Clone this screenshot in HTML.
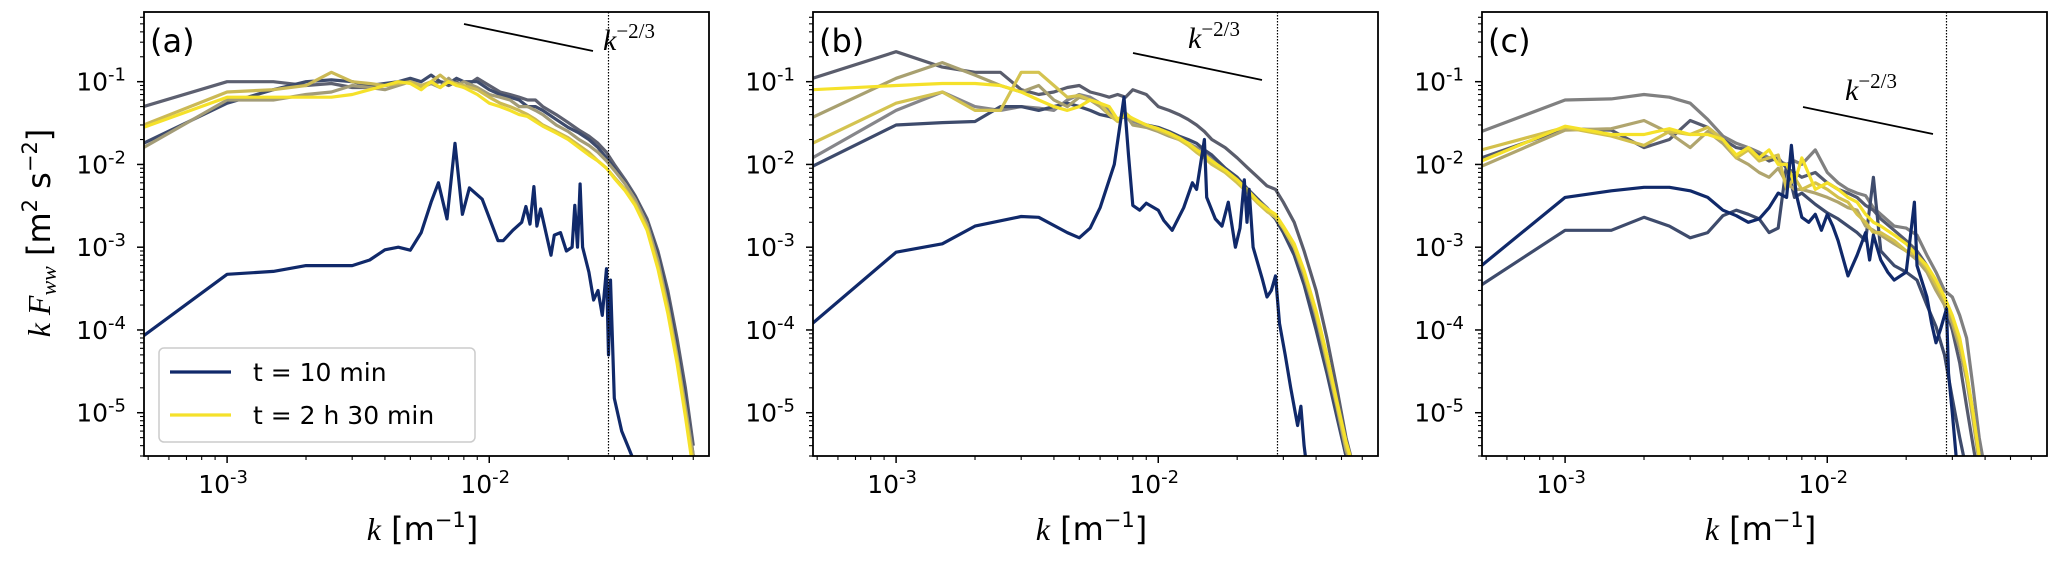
<!DOCTYPE html>
<html><head><meta charset="utf-8"><style>
html,body{margin:0;padding:0;background:#fff;}
svg{display:block;font-family:"DejaVu Sans","Liberation Sans",sans-serif;}
.math{font-family:"Liberation Serif","DejaVu Serif",serif;font-style:italic;}
</style></head><body>
<svg id="fig" width="2067" height="561" viewBox="0 0 2067 561"></svg>
<script>
// ---- data ----
const kGridA=[4.8e-4,1e-3,1.5e-3,2e-3,2.5e-3,3e-3,3.5e-3,4e-3,4.5e-3,5e-3,5.5e-3,6e-3,6.5e-3,7e-3,7.5e-3,8e-3,9e-3,1e-2,1.1e-2,1.2e-2,1.3e-2,1.4e-2,1.5e-2,1.6e-2,1.8e-2,2e-2,2.2e-2,2.4e-2,2.6e-2,2.8e-2,3e-2,3.3e-2,3.6e-2,4e-2,4.4e-2,4.8e-2,5.2e-2,5.6e-2,6e-2];
const a1=[0.018,0.055,0.08,0.1,0.105,0.1,0.09,0.095,0.1,0.11,0.1,0.12,0.1,0.095,0.11,0.1,0.1,0.08,0.07,0.065,0.06,0.05,0.05,0.045,0.035,0.028,0.024,0.02,0.016,0.012,0.009,0.006,0.004,0.002,8e-4,2.5e-4,6e-5,1.5e-5,3e-6];
const a2=[0.05,0.1,0.1,0.09,0.095,0.085,0.085,0.09,0.095,0.1,0.09,0.095,0.1,0.09,0.1,0.085,0.11,0.09,0.075,0.07,0.065,0.06,0.06,0.05,0.04,0.032,0.026,0.022,0.018,0.014,0.01,0.0065,0.0042,0.0022,9e-4,3e-4,8e-5,2e-5,4e-6];
const a3=[0.016,0.06,0.06,0.07,0.075,0.09,0.085,0.08,0.09,0.1,0.085,0.095,0.085,0.11,0.09,0.1,0.085,0.07,0.065,0.06,0.05,0.05,0.045,0.04,0.03,0.025,0.02,0.017,0.014,0.011,0.0085,0.0058,0.0038,0.0019,7e-4,2e-4,5e-5,1.2e-5,3e-6];
const a4=[0.03,0.075,0.08,0.09,0.13,0.1,0.095,0.09,0.095,0.1,0.09,0.1,0.12,0.1,0.095,0.09,0.08,0.065,0.055,0.05,0.045,0.04,0.035,0.03,0.025,0.021,0.017,0.014,0.011,0.009,0.007,0.005,0.0034,0.0017,6e-4,1.8e-4,4.5e-5,1e-5,2.5e-6];
const a5=[0.028,0.065,0.065,0.065,0.065,0.07,0.08,0.09,0.1,0.095,0.08,0.1,0.085,0.1,0.09,0.085,0.07,0.055,0.05,0.045,0.04,0.038,0.033,0.029,0.024,0.02,0.016,0.013,0.011,0.009,0.0068,0.0048,0.0032,0.0016,5.5e-4,1.6e-4,4e-5,9e-6,2e-6];
const kNavyA=[4.8e-4,1e-3,1.5e-3,2e-3,3e-3,3.5e-3,4e-3,4.5e-3,5e-3,5.5e-3,6e-3,6.4e-3,6.9e-3,7.4e-3,7.9e-3,8.4e-3,9.4e-3,1.08e-2,1.13e-2,1.23e-2,1.33e-2,1.38e-2,1.43e-2,1.48e-2,1.52e-2,1.57e-2,1.72e-2,1.77e-2,1.87e-2,1.97e-2,2.07e-2,2.12e-2,2.17e-2,2.22e-2,2.27e-2,2.4e-2,2.5e-2,2.6e-2,2.7e-2,2.8e-2,2.85e-2,2.9e-2,3e-2,3.2e-2,3.5e-2];
const navyA=[8.5e-5,4.7e-4,5.1e-4,6e-4,6e-4,7e-4,9.3e-4,1e-3,9.2e-4,1.5e-3,3.5e-3,6e-3,2.2e-3,1.8e-2,2.5e-3,5.2e-3,3.8e-3,1.2e-3,1.2e-3,1.6e-3,2e-3,3.1e-3,1.9e-3,5.4e-3,1.8e-3,2.9e-3,8e-4,1.4e-3,1.5e-3,9e-4,1e-3,3.2e-3,1e-3,5.8e-3,1e-3,5e-4,2.3e-4,3e-4,1.5e-4,5.5e-4,5e-5,4e-4,1.5e-5,6e-6,3e-6];

const kGridB=kGridA;
const b1=[0.0095,0.03,0.032,0.033,0.05,0.05,0.045,0.05,0.055,0.05,0.045,0.04,0.038,0.035,0.04,0.035,0.03,0.028,0.025,0.022,0.02,0.018,0.015,0.013,0.009,0.007,0.005,0.0038,0.0028,0.0022,0.0015,8e-4,3.5e-4,1e-4,3e-5,9e-6,3e-6,1.5e-6,1e-6];
const b2=[0.11,0.23,0.15,0.13,0.13,0.08,0.07,0.075,0.085,0.09,0.075,0.07,0.065,0.07,0.065,0.08,0.07,0.05,0.045,0.04,0.035,0.03,0.025,0.02,0.016,0.012,0.009,0.007,0.0055,0.005,0.0035,0.002,9e-4,3e-4,8e-5,2e-5,5e-6,2e-6,1e-6];
const b3=[0.012,0.045,0.075,0.05,0.045,0.05,0.048,0.045,0.06,0.07,0.065,0.055,0.045,0.035,0.038,0.033,0.03,0.027,0.024,0.02,0.018,0.016,0.014,0.012,0.009,0.0068,0.005,0.0038,0.003,0.0023,0.0016,9e-4,4e-4,1.2e-4,3.5e-5,1e-5,3e-6,1.5e-6,1e-6];
const b4=[0.037,0.11,0.17,0.12,0.09,0.075,0.09,0.06,0.05,0.065,0.06,0.05,0.04,0.035,0.04,0.03,0.028,0.025,0.022,0.02,0.018,0.015,0.013,0.011,0.0085,0.0065,0.0048,0.0036,0.0028,0.0024,0.0017,0.001,4.5e-4,1.5e-4,4e-5,1.2e-5,3.5e-6,1.8e-6,1e-6];
const b5=[0.018,0.055,0.075,0.045,0.045,0.13,0.13,0.09,0.065,0.068,0.06,0.055,0.04,0.033,0.042,0.035,0.03,0.026,0.023,0.02,0.017,0.014,0.012,0.01,0.008,0.006,0.0045,0.0034,0.0027,0.0023,0.0017,0.001,5e-4,1.6e-4,4.5e-5,1.3e-5,4e-6,2e-6,1e-6];
const b6=[0.08,0.09,0.095,0.095,0.09,0.075,0.06,0.05,0.045,0.05,0.06,0.055,0.05,0.035,0.04,0.036,0.03,0.027,0.024,0.021,0.018,0.015,0.013,0.011,0.0085,0.0065,0.0048,0.0036,0.0029,0.0025,0.0018,0.0011,5.2e-4,1.7e-4,5e-5,1.4e-5,4.5e-6,2e-6,1e-6];
const kNavyB=[4.8e-4,1e-3,1.5e-3,2e-3,3e-3,3.5e-3,4.5e-3,5e-3,5.5e-3,6e-3,6.8e-3,7.4e-3,7.7e-3,8e-3,8.5e-3,9e-3,1e-2,1.05e-2,1.13e-2,1.25e-2,1.35e-2,1.4e-2,1.5e-2,1.53e-2,1.65e-2,1.75e-2,1.85e-2,1.97e-2,2.05e-2,2.13e-2,2.18e-2,2.22e-2,2.3e-2,2.5e-2,2.6e-2,2.7e-2,2.8e-2,2.9e-2,3.05e-2,3.2e-2,3.4e-2,3.5e-2,3.6e-2,3.7e-2];
const navyB=[1.2e-4,8.7e-4,1.1e-3,1.8e-3,2.35e-3,2.3e-3,1.5e-3,1.3e-3,1.7e-3,3e-3,1e-2,6.5e-2,1.3e-2,3.2e-3,2.8e-3,3.4e-3,2.8e-3,2.1e-3,1.6e-3,3e-3,6e-3,5e-3,2e-2,4e-3,2.2e-3,1.8e-3,3.5e-3,1e-3,1.7e-3,6.5e-3,2e-3,5e-3,1e-3,4e-4,2.5e-4,3e-4,4.5e-4,1.2e-4,5e-5,2e-5,7e-6,1.2e-5,4e-6,2e-6];

const kGridC=[4.8e-4,1e-3,1.5e-3,2e-3,2.5e-3,3e-3,3.5e-3,4e-3,4.5e-3,5e-3,5.5e-3,6e-3,6.5e-3,7e-3,7.5e-3,8e-3,9e-3,1e-2,1.1e-2,1.2e-2,1.3e-2,1.4e-2,1.5e-2,1.6e-2,1.8e-2,2e-2,2.2e-2,2.4e-2,2.6e-2,2.8e-2,3e-2,3.2e-2,3.4e-2,3.6e-2,3.8e-2,4e-2];
const c1=[3.5e-4,1.6e-3,1.6e-3,2.3e-3,1.8e-3,1.3e-3,1.5e-3,2.4e-3,2.8e-3,2.5e-3,2.2e-3,1.5e-3,1.7e-3,1e-2,4e-3,4.5e-3,3.3e-3,2.6e-3,2.2e-3,1.8e-3,1.5e-3,1.2e-3,7e-3,9e-4,6e-4,5e-4,4e-4,2e-4,1.1e-4,5e-5,1.5e-5,5e-6,2e-6,1e-6,1e-6,1e-6];
const c2=[0.012,0.027,0.026,0.016,0.02,0.034,0.028,0.02,0.016,0.015,0.013,0.011,0.012,0.009,0.008,0.007,0.008,0.006,0.005,0.0045,0.004,0.0032,0.0028,0.0022,0.0016,0.0012,9e-4,6e-4,3.5e-4,2e-4,1e-4,4e-5,1.2e-5,4e-6,1.5e-6,1e-6];
const c3=[0.025,0.06,0.062,0.07,0.065,0.055,0.035,0.022,0.018,0.016,0.014,0.012,0.011,0.01,0.011,0.01,0.015,0.008,0.006,0.005,0.0045,0.0042,0.003,0.0025,0.0018,0.0017,0.0014,8e-4,5e-4,3e-4,2.5e-4,1.5e-4,8e-5,2e-5,5e-6,2e-6];
const c4=[0.0095,0.026,0.027,0.034,0.024,0.016,0.025,0.018,0.012,0.01,0.008,0.007,0.009,0.006,0.005,0.005,0.0045,0.004,0.0035,0.003,0.0028,0.0018,0.0016,0.0014,0.0011,9e-4,7e-4,5e-4,3e-4,2e-4,1.2e-4,6e-5,2.5e-5,8e-6,2.5e-6,1e-6];
const c5=[0.015,0.028,0.022,0.017,0.025,0.023,0.028,0.02,0.012,0.015,0.011,0.012,0.013,0.005,0.007,0.005,0.006,0.005,0.004,0.0035,0.0025,0.002,0.0015,0.0015,0.0012,9e-4,8e-4,5.5e-4,3.5e-4,2.3e-4,1.4e-4,7e-5,3e-5,1e-5,3e-6,1e-6];
const c6=[0.011,0.029,0.023,0.023,0.027,0.023,0.023,0.02,0.013,0.016,0.012,0.015,0.01,0.01,0.006,0.012,0.005,0.006,0.005,0.004,0.0035,0.0025,0.002,0.0018,0.0014,0.0011,8e-4,6e-4,4e-4,2.5e-4,1.5e-4,8e-5,3e-5,1e-5,3e-6,1e-6];
const kNavyC=[4.8e-4,1e-3,1.5e-3,2e-3,2.5e-3,3e-3,3.5e-3,4e-3,4.5e-3,5e-3,5.5e-3,6e-3,6.5e-3,7e-3,7.3e-3,7.6e-3,8e-3,8.5e-3,9e-3,9.5e-3,1e-2,1.05e-2,1.1e-2,1.2e-2,1.3e-2,1.4e-2,1.45e-2,1.5e-2,1.6e-2,1.7e-2,1.8e-2,2e-2,2.15e-2,2.2e-2,2.4e-2,2.5e-2,2.6e-2,2.7e-2,2.85e-2,2.9e-2,3e-2,3.1e-2];
const navyC=[6e-4,4e-3,4.8e-3,5.3e-3,5.3e-3,4.8e-3,4e-3,2.8e-3,2.4e-3,2e-3,2.2e-3,3e-3,4.5e-3,4e-3,1.7e-2,4.5e-3,2.3e-3,2e-3,2.5e-3,1.6e-3,2.5e-3,1.8e-3,1.2e-3,4.5e-4,8e-4,1.5e-3,7e-4,1.4e-3,7e-4,5e-4,4e-4,5e-4,3.5e-3,6e-4,2.5e-4,1.2e-4,7e-5,1e-4,1.8e-4,3e-5,1e-5,3e-6];

const yTicks=[-5,-4,-3,-2,-1];
const xTicks=[-3,-2];
const kCut=0.0285;

// ---- layout ----
const NS='http://www.w3.org/2000/svg';
const svg=document.getElementById('fig');
const TOP=12,BOT=456,PW=565;
const XMIN=Math.log10(4.82e-4),XMAX=Math.log10(0.0689);
const YMIN=Math.log10(3.0e-6),YMAX=Math.log10(0.695);
function mk(tag,attrs,parent){const e=document.createElementNS(NS,tag);for(const k in attrs)e.setAttribute(k,attrs[k]);(parent||svg).appendChild(e);return e;}

const panels=[
 {left:144,lab:'(a)',grid:kGridA,series:[a2,a1,a3,a4,a5],cols:['#5d6070','#3e4b6c','#a39c78','#cbb955','#f5e12a'],nk:kNavyA,nv:navyA,slope:[464,24,593,51],slab:[603,50]},
 {left:813,lab:'(b)',grid:kGridB,series:[b2,b3,b1,b4,b5,b6],cols:['#5a5d6c','#86868a','#3e4b6c','#a8a070','#d4c350','#f5e12a'],nk:kNavyB,nv:navyB,slope:[1133,53,1262,80],slab:[1188,48]},
 {left:1482,lab:'(c)',grid:kGridC,series:[c3,c2,c1,c4,c5,c6],cols:['#808080','#555a6e','#3e4b6c','#b0a56e','#d3c04c','#f5e12a'],nk:kNavyC,nv:navyC,slope:[1803,107,1933,134],slab:[1845,100]}
];

panels.forEach((p,pi)=>{
 const L=p.left,R=L+PW;
 const xs=v=>L+(Math.log10(v)-XMIN)/(XMAX-XMIN)*PW;
 const ys=v=>BOT-(Math.log10(v)-YMIN)/(YMAX-YMIN)*(BOT-TOP);
 const g=mk('g',{});
 
 
 const cid='clip'+pi;
 const cp=mk('clipPath',{id:cid},g);mk('rect',{x:L,y:TOP,width:PW,height:BOT-TOP},cp);
 const plot=mk('g',{'clip-path':'url(#'+cid+')'},g);
 p.series.forEach((s,si)=>{
  const d=s.map((v,i)=>(i?'L':'M')+xs(p.grid[i]).toFixed(1)+','+ys(v).toFixed(1)).join('');
  const path=mk('path',{d:d,fill:'none',stroke:p.cols[si],'stroke-width':3.2,'stroke-linejoin':'round'},plot);
  
  
 });
 const nd=p.nv.map((v,i)=>(i?'L':'M')+xs(p.nk[i]).toFixed(1)+','+ys(v).toFixed(1)).join('');
 const np=mk('path',{d:nd,fill:'none',stroke:'#10296a','stroke-width':3.2,'stroke-linejoin':'round'},plot);
 
 
 const cx=xs(kCut);
 const cut=mk('line',{x1:cx,x2:cx,y1:TOP,y2:BOT,stroke:'#000','stroke-width':1.2,'stroke-dasharray':'1.5,1.5'},g);
 
 
 const sl=mk('line',{x1:p.slope[0],y1:p.slope[1],x2:p.slope[2],y2:p.slope[3],stroke:'#000','stroke-width':1.8},g);
 
 
 const st=mk('text',{x:p.slab[0],y:p.slab[1],'font-size':30,class:'math'},g);
 
 
 st.innerHTML='k<tspan dy="-12" font-size="21" font-style="normal">−2/3</tspan>';
 const fr=mk('rect',{x:L,y:TOP,width:PW,height:BOT-TOP,fill:'none',stroke:'#000','stroke-width':1.8},g);
 
 
 for(let e=-4;e<=-1;e++)for(let m=1;m<=9;m++){const v=m*Math.pow(10,e);const lv=Math.log10(v);if(lv<XMIN||lv>XMAX)continue;const x=xs(v);mk('line',{x1:x,x2:x,y1:BOT,y2:BOT+(m==1?7:4),stroke:'#000','stroke-width':m==1?1.5:1.1},g);}
 xTicks.forEach(t=>{const tx=mk('text',{x:xs(Math.pow(10,t))-4,y:493,'font-size':25,'text-anchor':'middle'},g);
  
  
  tx.innerHTML='10<tspan dy="-10" font-size="18">'+t+'</tspan>';});
 for(let e=-6;e<=0;e++)for(let m=1;m<=9;m++){const v=m*Math.pow(10,e);const lv=Math.log10(v);if(lv<YMIN||lv>YMAX)continue;const y=ys(v);mk('line',{x1:L,x2:L-(m==1?7:4),y1:y,y2:y,stroke:'#000','stroke-width':m==1?1.5:1.1},g);}
 yTicks.forEach(t=>{const ty=mk('text',{x:L-18,y:ys(Math.pow(10,t))+9,'font-size':25,'text-anchor':'end'},g);
  
  
  ty.innerHTML='10<tspan dy="-10" font-size="18">'+t+'</tspan>';});
 const pl=mk('text',{x:L+6,y:52,'font-size':32},g);
 
 
 pl.textContent=p.lab;
 const xl=mk('text',{x:(L+R)/2-4,y:540,'font-size':32,'text-anchor':'middle'},g);
 
 
 xl.innerHTML='<tspan class="math" font-family="Liberation Serif">k</tspan> [m<tspan dy="-13" font-size="21">−1</tspan><tspan dy="13">]</tspan>';
});
</script>
<svg style="position:absolute;left:0;top:0" width="2067" height="561">
 <text transform="translate(50,233) rotate(-90)" font-size="32" text-anchor="middle" font-family="DejaVu Sans, sans-serif"><tspan font-family="Liberation Serif" font-style="italic">k F</tspan><tspan font-family="Liberation Serif" font-style="italic" font-size="22" dy="6">ww</tspan><tspan dy="-6">  [m</tspan><tspan font-size="21" dy="-13">2</tspan><tspan dy="13"> s</tspan><tspan font-size="21" dy="-13">−2</tspan><tspan dy="13">]</tspan></text>
 <g>
  <rect x="159" y="348" width="316" height="94" rx="5" fill="#fff" fill-opacity="0.85" stroke="#ccc" stroke-width="1.5"/>
  <line x1="170" y1="372" x2="231" y2="372" stroke="#10296a" stroke-width="3.2"/>
  <text x="253" y="381" font-size="25">t = 10 min</text>
  <line x1="170" y1="415" x2="231" y2="415" stroke="#f5e12a" stroke-width="3.2"/>
  <text x="253" y="424" font-size="25">t = 2 h 30 min</text>
 </g>
</svg>
</body></html>
